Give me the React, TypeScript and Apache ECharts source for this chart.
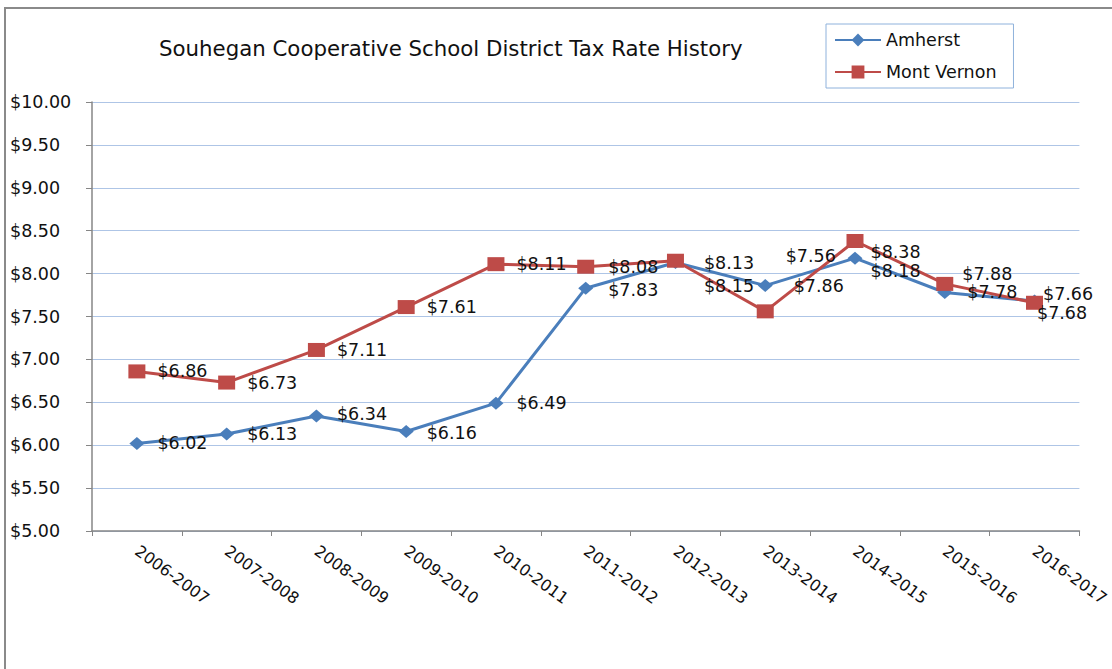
import React, { useEffect, useRef } from "react";
import * as echarts from "echarts";

const categories = [
  "2006-2007", "2007-2008", "2008-2009", "2009-2010", "2010-2011", "2011-2012",
  "2012-2013", "2013-2014", "2014-2015", "2015-2016", "2016-2017",
];
const amherst = [6.02, 6.13, 6.34, 6.16, 6.49, 7.83, 8.13, 7.86, 8.18, 7.78, 7.68];
const montVernon = [6.86, 6.73, 7.11, 7.61, 8.11, 8.08, 8.15, 7.56, 8.38, 7.88, 7.66];
const seriesNames = ["Amherst", "Mont Vernon"];
const titleText = "Souhegan Cooperative School District Tax Rate History";

// label nudges (style only)
const amherstLabelOffsets = [
  [0, 0], [0, 0], [0, -2], [0, 2], [0, 0], [2, 2], [8, 1], [8, 0], [-5, 13], [2, 0], [-18, 12],
];
const mvLabelOffsets = [
  [0, 0], [0, 0], [0, 0], [0, 0], [0, 0], [2, 0], [8, 25], [0, -55], [-5, 11], [-3, -10], [-12, -9],
];

const FONT = "DejaVu Sans";
const BLUE = "#4a7ebb";
const RED = "#be4b48";

export default function App() {
  const ref = useRef<HTMLDivElement>(null);
  useEffect(() => {
    if (!ref.current) return;
    const chart = echarts.init(ref.current, null, { renderer: "svg" });
    const fmt = (p: any) => "$" + Number(p.value).toFixed(2);
    chart.setOption({
      animation: false,
      backgroundColor: "#ffffff",
      textStyle: { fontFamily: FONT },
      graphic: [
        {
          type: "rect",
          shape: { x: 5, y: 8, width: 1200, height: 800 },
          style: { fill: "none", stroke: "#8a8a8a", lineWidth: 2 },
          silent: true,
        },
      ],
      title: {
        text: titleText,
        left: 154,
        top: 33,
        textStyle: { fontFamily: FONT, fontSize: 21.3, fontWeight: "normal", color: "#111" },
      },
      legend: {
        orient: "vertical",
        left: 826,
        top: 24,
        padding: [7, 17, 7, 8],
        itemGap: 14,
        itemWidth: 46,
        itemHeight: 16,
        borderColor: "#8fb2dc",
        borderWidth: 1,
        data: seriesNames,
        textStyle: { fontFamily: FONT, fontSize: 17.5, color: "#111" },
      },
      grid: { left: 92, right: 28, top: 102, bottom: 138, containLabel: false },
      xAxis: {
        type: "category",
        data: categories,
        boundaryGap: true,
        axisLine: { lineStyle: { color: "#868686", width: 1.5 } },
        axisTick: { show: true, length: 5, interval: 0, lineStyle: { color: "#868686" } },
        axisLabel: {
          interval: 0,
          rotate: -36,
          margin: 18,
          fontFamily: FONT,
          fontSize: 16,
          color: "#111",
        },
      },
      yAxis: {
        type: "value",
        min: 5,
        max: 10,
        interval: 0.5,
        axisLine: { show: true, lineStyle: { color: "#868686", width: 1.5 } },
        axisTick: { show: true, length: 6, lineStyle: { color: "#868686" } },
        splitLine: { lineStyle: { color: "#aec5e6", width: 1 } },
        axisLabel: {
          align: "left",
          margin: 82,
          fontFamily: FONT,
          fontSize: 17.5,
          color: "#111",
          formatter: (v: number) => "$" + v.toFixed(2),
        },
      },
      series: [
        {
          name: seriesNames[0],
          type: "line",
          data: amherst.map((v, i) => ({ value: v, label: { offset: amherstLabelOffsets[i] } })),
          symbol: "diamond",
          symbolSize: [15, 13],
          lineStyle: { color: BLUE, width: 3 },
          itemStyle: { color: BLUE },
          label: {
            show: true,
            position: "right",
            distance: 13,
            formatter: fmt,
            fontFamily: FONT,
            fontSize: 17.5,
            color: "#111",
          },
        },
        {
          name: seriesNames[1],
          type: "line",
          data: montVernon.map((v, i) => ({ value: v, label: { offset: mvLabelOffsets[i] } })),
          symbol: "rect",
          symbolSize: [17, 14],
          lineStyle: { color: RED, width: 3 },
          itemStyle: { color: RED },
          label: {
            show: true,
            position: "right",
            distance: 12,
            formatter: fmt,
            fontFamily: FONT,
            fontSize: 17.5,
            color: "#111",
          },
        },
      ],
    });
    return () => chart.dispose();
  }, []);
  return (
    <div
      ref={ref}
      style={{ position: "fixed", left: 0, top: 0, width: 1112, height: 669, background: "#fff" }}
    />
  );
}
